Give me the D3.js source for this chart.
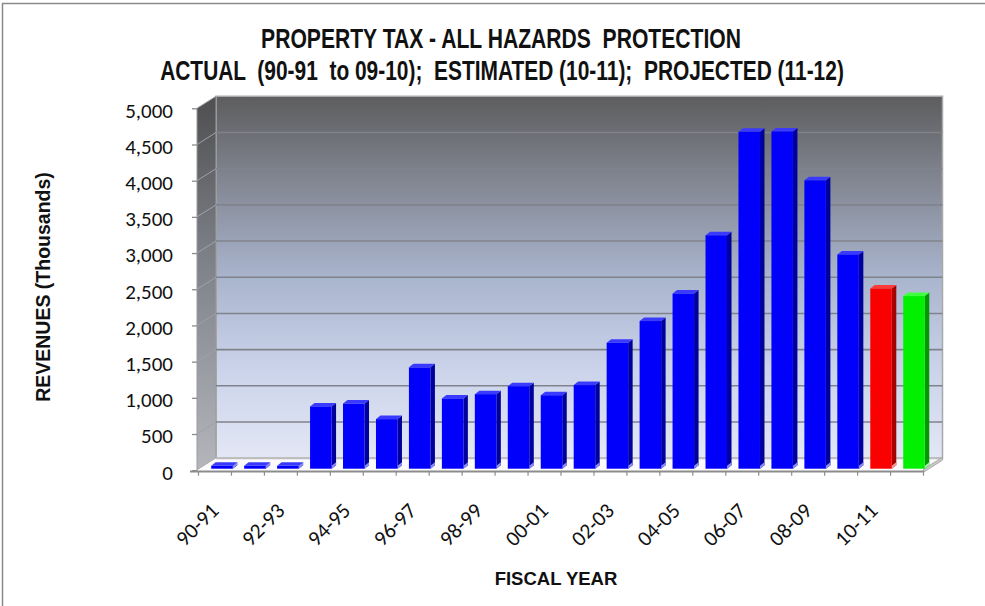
<!DOCTYPE html>
<html>
<head>
<meta charset="utf-8">
<script src="https://cdn.jsdelivr.net/npm/d3@7"></script>
<style>
  html, body { margin: 0; padding: 0; background: #ffffff; }
  svg { display: block; }
  text { white-space: pre; }
</style>
</head>
<body>
<svg id="chart" width="985" height="606"></svg>
<script>
// ---------------- DATA ----------------
const categories = ["90-91","91-92","92-93","93-94","94-95","95-96","96-97","97-98","98-99","99-00",
                    "00-01","01-02","02-03","03-04","04-05","05-06","06-07","07-08","08-09","09-10",
                    "10-11","11-12"];
const revenues = [40, 40, 40, 860, 900, 685, 1400, 970, 1030, 1140,
                  1015, 1155, 1740, 2040, 2420, 3225, 4655, 4660, 3985, 2960,
                  2490, 2385];
const status = ["actual","actual","actual","actual","actual","actual","actual","actual","actual","actual",
                "actual","actual","actual","actual","actual","actual","actual","actual","actual","actual",
                "estimated","projected"];
const yTicks = [0, 500, 1000, 1500, 2000, 2500, 3000, 3500, 4000, 4500, 5000];
const xLabels = ["90-91","92-93","94-95","96-97","98-99","00-01","02-03","04-05","06-07","08-09","10-11"];
const titleLines = ["PROPERTY TAX - ALL HAZARDS  PROTECTION",
                    "ACTUAL  (90-91  to 09-10);  ESTIMATED (10-11);  PROJECTED (11-12)"];
const yTitle = "REVENUES (Thousands)";
const xTitle = "FISCAL YEAR";

// ---------------- STYLE ----------------
const palette = {
  actual:    {front: "#0000fb", side: "#00009c", top: "#3a3aff", foot: "#8c8cf0"},
  estimated: {front: "#fb0000", side: "#a60000", top: "#ff3a3a", foot: "#f0a0a0"},
  projected: {front: "#00f000", side: "#009a00", top: "#40ff40", foot: "#a0f0a0"}
};
const X0 = 197, X1 = 923.5;       // front floor edge
const DX = 19, DY = -12;          // depth of the 3D floor
const BAR_OFF = 12.7, BAR_W = 21.5, BAR_DX = 4.5, BAR_DY = -3.5, BAR_LIFT = 1.5;

const svg = d3.select("#chart");

const x = d3.scaleBand().domain(categories).range([X0 + 1.5, X1]).paddingInner(0).paddingOuter(0);
const y = d3.scaleLinear().domain([0, 5000]).range([470.2, 108.3]);

// outer frame
svg.append("rect").attr("x", 2.5).attr("y", 3.5).attr("width", 1100).attr("height", 800)
  .attr("fill", "#ffffff").attr("stroke", "#8a8a8a").attr("stroke-width", 1.5);

const defs = svg.append("defs");
const gWall = defs.append("linearGradient").attr("id", "wallGrad").attr("x1", 0).attr("y1", 0).attr("x2", 0).attr("y2", 1);
[[0, "#5d5d5e"], [0.22, "#80848f"], [0.5, "#a9b4cd"], [0.75, "#cad3ea"], [1, "#e3e7f5"]]
  .forEach(([o, c]) => gWall.append("stop").attr("offset", o).attr("stop-color", c));
const gSide = defs.append("linearGradient").attr("id", "sideGrad").attr("x1", 0).attr("y1", 0).attr("x2", 0).attr("y2", 1);
[[0, "#4e4e50"], [0.4, "#7a7d84"], [1, "#b4b6bc"]]
  .forEach(([o, c]) => gSide.append("stop").attr("offset", o).attr("stop-color", c));

const y0 = y(0), yTop = y(5000);
const poly = pts => pts.map(p => p.join(",")).join(" ");

// back wall
svg.append("polygon")
  .attr("points", poly([[X0 + DX, yTop + DY], [X1 + DX, yTop + DY], [X1 + DX, y0 + DY], [X0 + DX, y0 + DY]]))
  .attr("fill", "url(#wallGrad)").attr("stroke", "#a9a9a9").attr("stroke-width", 1.5);
// side wall
svg.append("polygon")
  .attr("points", poly([[X0, yTop], [X0 + DX, yTop + DY], [X0 + DX, y0 + DY], [X0, y0]]))
  .attr("fill", "url(#sideGrad)").attr("stroke", "#9a9a9a").attr("stroke-width", 1);
// floor
svg.append("polygon")
  .attr("points", poly([[X0, y0], [X0 + DX, y0 + DY], [X1 + DX, y0 + DY], [X1, y0]]))
  .attr("fill", "#fbfbfd").attr("stroke", "none");
svg.append("line").attr("x1", X0 + DX).attr("x2", X1 + DX).attr("y1", y0 + DY).attr("y2", y0 + DY)
  .attr("stroke", "#bdbdbd").attr("stroke-width", 2);
svg.append("polygon")
  .attr("points", poly([[X1, y0 - 1], [X1 + DX, y0 + DY - 1], [X1 + DX, y0 + DY + 2], [X1, y0 + 2]]))
  .attr("fill", "#c8c8c8").attr("stroke", "#a0a0a0").attr("stroke-width", 0.8);

// gridlines (back wall + side wall)
const grid = svg.append("g");
yTicks.filter(t => t > 0 && t < 5000).forEach(t => {
  grid.append("line").attr("x1", X0 + DX).attr("x2", X1 + DX)
    .attr("y1", y(t) + DY).attr("y2", y(t) + DY)
    .attr("stroke", "#80838b").attr("stroke-width", 1.6);
  grid.append("line").attr("x1", X0).attr("x2", X0 + DX)
    .attr("y1", y(t)).attr("y2", y(t) + DY)
    .attr("stroke", "#9ea2aa").attr("stroke-width", 1);
});

// bars
const bars = svg.append("g");
categories.forEach((c, i) => {
  const col = palette[status[i]];
  const xl = x(c) + BAR_OFF, xr = xl + BAR_W;
  const yb = y(0) - BAR_LIFT, yt = y(revenues[i]) - BAR_LIFT;
  const g = bars.append("g");
  g.append("polygon").attr("points", poly([[xr, yt], [xr + BAR_DX, yt + BAR_DY], [xr + BAR_DX, yb + BAR_DY], [xr, yb]]))
    .attr("fill", col.side);
  g.append("polygon").attr("points", poly([[xr, yb - 3], [xr + BAR_DX, yb + BAR_DY - 3], [xr + BAR_DX, yb + BAR_DY], [xr, yb]]))
    .attr("fill", col.foot);
  g.append("polygon").attr("points", poly([[xl, yt], [xl + BAR_DX, yt + BAR_DY], [xr + BAR_DX, yt + BAR_DY], [xr, yt]]))
    .attr("fill", col.top);
  g.append("rect").attr("x", xl).attr("y", yt).attr("width", BAR_W).attr("height", Math.max(0, yb - yt))
    .attr("fill", col.front);
});

// x axis line + ticks at category boundaries
const xAxisG = svg.append("g");
xAxisG.append("line").attr("x1", 190).attr("x2", X1).attr("y1", y0 + 1.3).attr("y2", y0 + 1.3)
  .attr("stroke", "#8c8c8c").attr("stroke-width", 2);
categories.concat([null]).forEach((c) => {
  const xx = c === null ? x.range()[1] : x(c);
  xAxisG.append("line").attr("x1", xx).attr("x2", xx).attr("y1", y0 + 1).attr("y2", y0 + 5.5)
    .attr("stroke", "#8c8c8c").attr("stroke-width", 1.2);
});

// x labels (rotated)
const tickFont = "Carlito, Calibri, Lato, sans-serif";
svg.append("g").selectAll("text").data(xLabels).join("text")
  .attr("transform", d => `translate(${x(d) + x.bandwidth() / 2 + 5},512) rotate(-45)`)
  .attr("text-anchor", "end")
  .attr("font-family", tickFont).attr("font-size", 21.5).attr("fill", "#111")
  .text(d => d);

// y axis
const yAxis = d3.axisLeft(y).tickValues(yTicks).tickFormat(d3.format(",")).tickSize(5).tickPadding(19);
const yAxisG = svg.append("g").attr("transform", `translate(${X0},0)`).call(yAxis);
yAxisG.select(".domain").remove();
yAxisG.selectAll(".tick line").attr("stroke", "#8c8c8c").attr("stroke-width", 1.3);
yAxisG.selectAll(".tick text").attr("font-family", tickFont).attr("font-size", 21)
  .attr("fill", "#111").attr("dy", "0.42em");

// titles (narrow bold face emulated by a horizontal squeeze)
const titleFont = "'Liberation Sans', Arial, sans-serif";
svg.append("g").attr("transform", "translate(501,48) scale(0.782,1)")
  .append("text").attr("x", 0).attr("y", 0).attr("text-anchor", "middle")
  .attr("font-family", titleFont).attr("font-weight", "bold").attr("font-size", 27).attr("fill", "#111")
  .text(titleLines[0]);
svg.append("g").attr("transform", "translate(502,80) scale(0.775,1)")
  .append("text").attr("x", 0).attr("y", 0).attr("text-anchor", "middle")
  .attr("font-family", titleFont).attr("font-weight", "bold").attr("font-size", 27).attr("fill", "#111")
  .text(titleLines[1]);

svg.append("text").attr("transform", "translate(50,287) rotate(-90)").attr("text-anchor", "middle")
  .attr("font-family", "'Liberation Sans', Arial, sans-serif").attr("font-weight", "bold")
  .attr("font-size", 19.5).attr("fill", "#111").text(yTitle);
svg.append("text").attr("x", 556).attr("y", 585).attr("text-anchor", "middle")
  .attr("font-family", "'Liberation Sans', Arial, sans-serif").attr("font-weight", "bold")
  .attr("font-size", 18.5).attr("fill", "#111").text(xTitle);
</script>
</body>
</html>
